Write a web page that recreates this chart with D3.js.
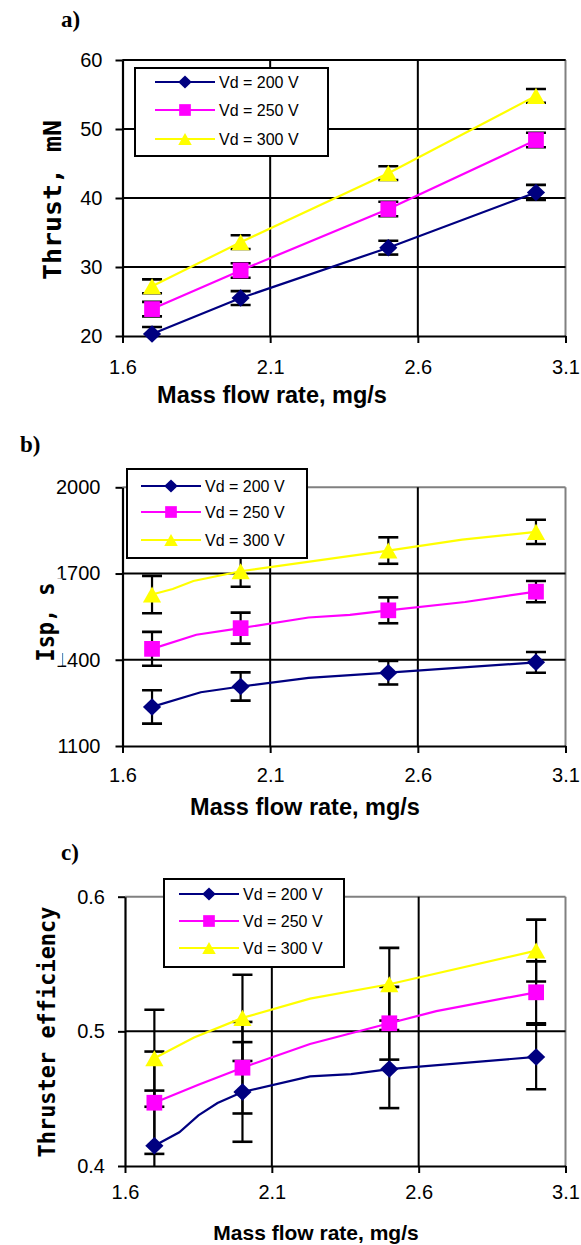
<!DOCTYPE html>
<html>
<head>
<meta charset="utf-8">
<script src="https://cdn.jsdelivr.net/npm/d3@7"></script>
<style>
  html, body { margin: 0; padding: 0; background: #fff; }
  svg { display: block; }
</style>
</head>
<body>
<script>
// ---- data ----
const flowRates = [1.7, 2.0, 2.5, 3.0];
const seriesNames = ["Vd = 200 V", "Vd = 250 V", "Vd = 300 V"];
const xTicks = [1.6, 2.1, 2.6, 3.1];

// a) thrust, mN
const thrust200 = [20.3, 25.5, 32.8, 40.8];
const thrust250 = [23.9, 29.5, 38.4, 48.4];
const thrust300 = [27.2, 33.6, 43.6, 54.8];
const thrustErr200 = [1.0, 1.0, 1.0, 1.1];
const thrustErr250 = [1.05, 1.05, 1.05, 1.05];
const thrustErr300 = [1.0, 1.0, 1.0, 1.0];
const thrustTicks = [20, 30, 40, 50, 60];

// b) specific impulse, s
const isp200 = [1236, 1307, 1355, 1391];
const isp250 = [1438, 1510, 1572, 1637];
const isp300 = [1627, 1708, 1780, 1845];
const ispErr200 = [58, 49, 41, 36];
const ispErr250 = [59, 54, 45, 37];
const ispErr300 = [65, 54, 46, 42];
const ispCurve200 = [[1.7, 1236], [1.865, 1287], [2.0, 1307], [2.23, 1337], [2.5, 1355], [3.0, 1391]];
const ispCurve250 = [[1.7, 1438], [1.85, 1487], [2.0, 1510], [2.23, 1547], [2.37, 1556], [2.5, 1572], [2.76, 1601], [3.0, 1637]];
const ispCurve300 = [[1.7, 1627], [1.77, 1646], [1.84, 1674], [2.0, 1708], [2.5, 1780], [2.75, 1818], [3.0, 1845]];
const ispTicks = [1100, 1400, 1700, 2000];

// c) thruster efficiency
const eff200 = [0.415, 0.455, 0.472, 0.481];
const eff250 = [0.447, 0.473, 0.506, 0.529];
const eff300 = [0.480, 0.510, 0.535, 0.560];
const effErr200 = [0.041, 0.037, 0.029, 0.024];
const effErr250 = [0.038, 0.034, 0.027, 0.023];
const effErr300 = [0.036, 0.032, 0.027, 0.023];
const effCurve200 = [[1.7, 0.415], [1.785, 0.425], [1.85, 0.4376], [1.915, 0.4468], [2.0, 0.455], [2.23, 0.4666], [2.37, 0.4683], [2.5, 0.472], [3.0, 0.481]];
const effCurve250 = [[1.7, 0.447], [1.85, 0.4604], [2.0, 0.473], [2.23, 0.4906], [2.5, 0.506], [2.66, 0.515], [3.0, 0.529]];
const effCurve300 = [[1.7, 0.480], [1.835, 0.4955], [2.0, 0.510], [2.23, 0.5243], [2.5, 0.535], [3.0, 0.560]];
const effTicks = [0.4, 0.5, 0.6];

// ---- styles ----
const colors = ["#000080", "#FF00FF", "#FFFF00"];
const shapes = ["diamond", "square", "triangle"];
const SANS = "'Liberation Sans', Arial, sans-serif";
const SERIF = "'Liberation Serif', 'Times New Roman', serif";
const MONO = "'DejaVu Sans Mono', monospace";

const svg = d3.select("body").append("svg")
  .attr("width", 581).attr("height", 1245);

function markerPath(shape, s) {
  if (shape === "diamond") return `M0,${-s * 0.5}L${s * 0.52},0L0,${s * 0.5}L${-s * 0.52},0Z`;
  if (shape === "square") { const h = s * 0.45; return `M${-h},${-h}H${h}V${h}H${-h}Z`; }
  const w = s * 0.52, h = s * 0.46;
  return `M0,${-h}L${w},${h}L${-w},${h}Z`;
}

let clipId = 0;
function drawPanel(cfg) {
  const g = svg.append("g");
  const x = d3.scaleLinear().domain([1.6, 3.1]).range([cfg.left, cfg.right]);
  const y = d3.scaleLinear().domain(cfg.yDomain).range([cfg.bottom, cfg.top]);

  const id = "clip" + (clipId++);
  g.append("clipPath").attr("id", id).append("rect")
    .attr("x", cfg.left).attr("y", cfg.top)
    .attr("width", cfg.right - cfg.left).attr("height", cfg.bottom - cfg.top);

  // plot frame (top and right edges)
  g.append("line").attr("x1", cfg.left).attr("x2", cfg.right)
    .attr("y1", cfg.top).attr("y2", cfg.top)
    .attr("stroke", cfg.topBlack ? "#000" : "#808080").attr("stroke-width", 2);
  g.append("line").attr("x1", cfg.right).attr("x2", cfg.right)
    .attr("y1", cfg.top).attr("y2", cfg.bottom)
    .attr("stroke", "#808080").attr("stroke-width", 2);

  // gridlines
  g.selectAll(".gy").data(cfg.gridY).enter().append("line")
    .attr("x1", cfg.left).attr("x2", cfg.right)
    .attr("y1", d => y(d)).attr("y2", d => y(d))
    .attr("stroke", "#000").attr("stroke-width", 2);
  g.selectAll(".gx").data([2.1, 2.6]).enter().append("line")
    .attr("x1", d => x(d)).attr("x2", d => x(d))
    .attr("y1", cfg.top).attr("y2", cfg.bottom)
    .attr("stroke", "#000").attr("stroke-width", 2);

  // axes
  const yAxis = g.append("g").attr("transform", `translate(${cfg.left},0)`)
    .call(d3.axisLeft(y).tickValues(cfg.yTicks).tickSize(7).tickSizeOuter(0)
      .tickPadding(cfg.yPad).tickFormat(cfg.yFormat));
  const xAxis = g.append("g").attr("transform", `translate(0,${cfg.bottom})`)
    .call(d3.axisBottom(x).tickValues(xTicks).tickSize(7).tickSizeOuter(0)
      .tickPadding(cfg.xPad).tickFormat(d3.format(".1f")));
  [yAxis, xAxis].forEach(a => {
    a.select(".domain").attr("stroke", "#000").attr("stroke-width", 2.2);
    a.selectAll(".tick line").attr("stroke", "#000").attr("stroke-width", 2);
    a.selectAll("text").attr("font-family", SANS).attr("font-size", 20).attr("fill", "#000");
  });

  // error bars
  const eb = g.append("g").attr("clip-path", `url(#${id})`);
  cfg.series.forEach(s => {
    flowRates.forEach((fr, i) => {
      const cx = x(fr), hi = y(s.values[i] + s.err[i]), lo = y(s.values[i] - s.err[i]);
      eb.append("line").attr("x1", cx).attr("x2", cx).attr("y1", hi).attr("y2", lo)
        .attr("stroke", "#000").attr("stroke-width", 2.2);
      [hi, lo].forEach(yy => eb.append("line")
        .attr("x1", cx - 10).attr("x2", cx + 10).attr("y1", yy).attr("y2", yy)
        .attr("stroke", "#000").attr("stroke-width", 2.6));
    });
  });

  // series lines
  const line = d3.line().x(d => x(d[0])).y(d => y(d[1]));
  cfg.series.forEach((s, k) => {
    g.append("path").datum(s.curve).attr("d", line)
      .attr("fill", "none").attr("stroke", colors[k]).attr("stroke-width", 2.2);
  });

  // markers
  cfg.series.forEach((s, k) => {
    g.selectAll(".m" + k).data(s.values).enter().append("path")
      .attr("transform", (d, i) => `translate(${x(flowRates[i])},${y(d)})`)
      .attr("d", markerPath(shapes[k], 17.5))
      .attr("fill", colors[k]);
  });

  // legend
  const L = cfg.legend;
  const lg = g.append("g");
  lg.append("rect").attr("x", L.x).attr("y", L.y).attr("width", L.w).attr("height", L.h)
    .attr("fill", "#fff").attr("stroke", "#000").attr("stroke-width", 2);
  seriesNames.forEach((name, k) => {
    const yy = L.rows[k];
    lg.append("line").attr("x1", L.lineX).attr("x2", L.lineX + 60)
      .attr("y1", yy).attr("y2", yy).attr("stroke", colors[k]).attr("stroke-width", 2.2);
    lg.append("path").attr("transform", `translate(${L.lineX + 30},${yy})`)
      .attr("d", markerPath(shapes[k], 13)).attr("fill", colors[k]);
    lg.append("text").attr("x", L.lineX + 64).attr("y", yy).attr("dy", "0.36em")
      .attr("font-family", SANS).attr("font-size", 16).text(name);
  });

  // x axis title
  svg.append("text").attr("x", cfg.xTitle[0]).attr("y", cfg.xTitle[1])
    .attr("text-anchor", "middle").attr("font-family", SANS).attr("font-weight", "bold")
    .attr("font-size", cfg.xTitle[2]).text("Mass flow rate, mg/s");

  // y axis title on an opaque backing
  const T = cfg.yTitle;
  const yt = svg.append("g").attr("transform", `translate(${T.x},${T.y}) rotate(-90)`);
  yt.append("rect").attr("x", -T.len / 2 - 4).attr("y", -T.size * 0.8)
    .attr("width", T.len + 8).attr("height", T.size * 1.15).attr("fill", "#fff");
  yt.append("text").attr("text-anchor", "middle")
    .attr("font-family", MONO).attr("font-weight", "bold").attr("font-size", T.size)
    .attr("textLength", T.len).attr("lengthAdjust", "spacingAndGlyphs")
    .text(T.text);

  // panel tag
  svg.append("text").attr("x", cfg.tag[0]).attr("y", cfg.tag[1])
    .attr("font-family", SERIF).attr("font-weight", "bold").attr("font-size", 23)
    .text(cfg.tag[2]);
}

drawPanel({
  left: 122.5, right: 565.5, top: 60, bottom: 336,
  yDomain: [20, 60], yTicks: thrustTicks, gridY: [30, 40, 50, 60], topBlack: true,
  yFormat: d3.format("d"), yPad: 13, xPad: 17,
  series: [
    { values: thrust200, err: thrustErr200, curve: flowRates.map((f, i) => [f, thrust200[i]]) },
    { values: thrust250, err: thrustErr250, curve: flowRates.map((f, i) => [f, thrust250[i]]) },
    { values: thrust300, err: thrustErr300, curve: flowRates.map((f, i) => [f, thrust300[i]]) }
  ],
  legend: { x: 135, y: 68, w: 193, h: 88, rows: [82, 110, 139], lineX: 155 },
  xTitle: [272, 403, 23.5],
  yTitle: { x: 61, y: 200, size: 25, len: 160, text: "Thrust, mN" },
  tag: [61, 27, "a)"]
});

drawPanel({
  left: 122.5, right: 565.5, top: 487.3, bottom: 746,
  yDomain: [1100, 2000], yTicks: ispTicks, gridY: [1400, 1700], topBlack: false,
  yFormat: d3.format("d"), yPad: 15, xPad: 15,
  series: [
    { values: isp200, err: ispErr200, curve: ispCurve200 },
    { values: isp250, err: ispErr250, curve: ispCurve250 },
    { values: isp300, err: ispErr300, curve: ispCurve300 }
  ],
  legend: { x: 127, y: 469, w: 180, h: 89, rows: [486, 512, 540], lineX: 141 },
  xTitle: [305, 815, 23.5],
  yTitle: { x: 54, y: 622, size: 24, len: 79, text: "Isp, s" },
  tag: [20, 452, "b)"]
});

drawPanel({
  left: 125, right: 565.5, top: 896.7, bottom: 1166,
  yDomain: [0.4, 0.6], yTicks: effTicks, gridY: [0.5], topBlack: false,
  yFormat: d3.format(".1f"), yPad: 13, xPad: 12,
  series: [
    { values: eff200, err: effErr200, curve: effCurve200 },
    { values: eff250, err: effErr250, curve: effCurve250 },
    { values: eff300, err: effErr300, curve: effCurve300 }
  ],
  legend: { x: 164, y: 879, w: 180, h: 88, rows: [894, 921, 948], lineX: 179 },
  xTitle: [316, 1240, 21],
  yTitle: { x: 55, y: 1032, size: 23, len: 251, text: "Thruster efficiency" },
  tag: [61, 860, "c)"]
});
</script>
</body>
</html>
